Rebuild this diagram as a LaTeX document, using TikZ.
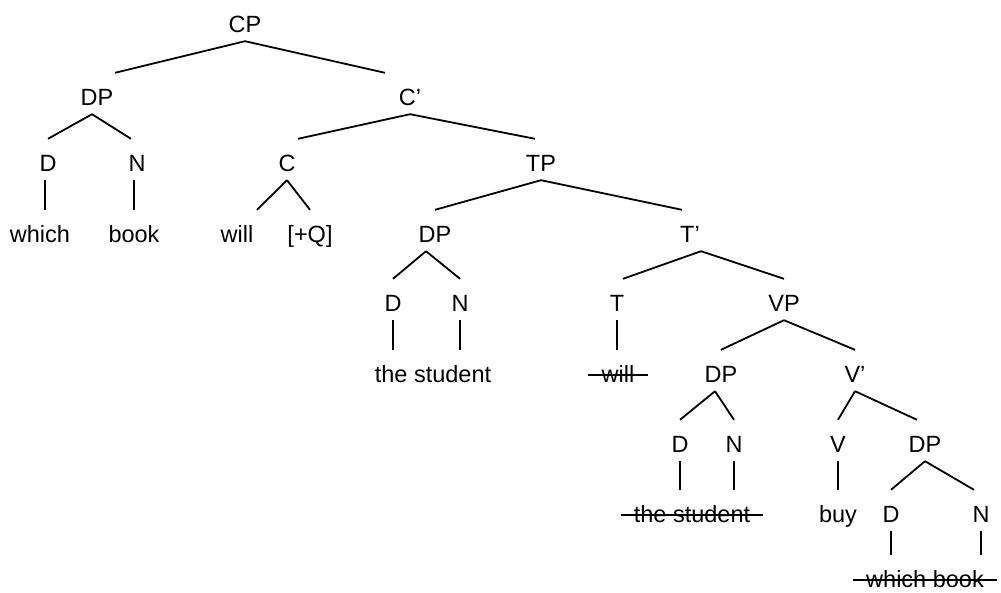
\documentclass[tikz,border=0pt]{standalone}
\usepackage{fontspec}
\setmainfont{Liberation Sans}
\usetikzlibrary{calc}

\begin{document}
\begin{tikzpicture}[
                x=1pt,y=-1pt,
                cat/.style={anchor=base,inner sep=0pt,text height=32pt,text depth=9pt,font=\fontsize{23.5}{28}\selectfont},
                branch/.style={line width=1.8pt},
                strike/.style={line width=1.3pt,shorten <=-13pt,shorten >=-13pt}
            ]
                \useasboundingbox (0,0) rectangle (1001,592);

                % CP level
                \node[cat] (cp) at (245,32) {CP};
                \node[cat] (dp1) at (97,105) {DP};
                \node[cat] (c1) at (410,105) {C’};

                % Wh-phrase and C
                \node[cat] (d1) at (48,171) {D};
                \node[cat] (n1) at (137,171) {N};
                \node[cat] (c) at (287,171) {C};
                \node[cat] (tp) at (541,171) {TP};
                \node[cat] (which1) at (40,242) {which};
                \node[cat] (book1) at (134,242) {book};
                \node[cat] (will1) at (237,242) {will};
                \node[cat] (q) at (310,242) {[+Q]};

                % TP level
                \node[cat] (dp2) at (435,242) {DP};
                \node[cat] (t1) at (690,242) {T’};
                \node[cat] (d2) at (393,311) {D};
                \node[cat] (n2) at (460,311) {N};
                \node[cat] (t) at (617,311) {T};
                \node[cat] (vp) at (784,311) {VP};
                \node[cat] (stud1) at (433,382) {the student};
                \node[cat] (will2) at (618,382) {will};

                % VP level
                \node[cat] (dp3) at (721,382) {DP};
                \node[cat] (v1) at (855,382) {V’};
                \node[cat] (d3) at (680,452) {D};
                \node[cat] (n3) at (734,452) {N};
                \node[cat] (v) at (838,452) {V};
                \node[cat] (dp4) at (925,452) {DP};
                \node[cat] (stud2) at (692,522) {the student};
                \node[cat] (buy) at (838,522) {buy};
                \node[cat] (d4) at (891,522) {D};
                \node[cat] (n4) at (981,522) {N};
                \node[cat] (wb) at (925,587) {which book};

                % Branches
                \draw[branch] (cp.south) -- ([xshift=18pt]dp1.north);
                \draw[branch] (cp.south) -- ([xshift=-25pt]c1.north);
                \draw[branch] ([xshift=-5pt]dp1.south) -- (d1.north);
                \draw[branch] ([xshift=-5pt]dp1.south) -- ([xshift=-6pt]n1.north);
                \draw[branch] (c1.south) -- ([xshift=11pt]c.north);
                \draw[branch] (c1.south) -- ([xshift=-6pt]tp.north);
                \draw[branch] (c.south) -- ([xshift=20pt]will1.north);
                \draw[branch] (c.south) -- (q.north);
                \draw[branch] (tp.south) -- (dp2.north);
                \draw[branch] (tp.south) -- ([xshift=-8pt]t1.north);
                \draw[branch] ([xshift=-9pt]dp2.south) -- (d2.north);
                \draw[branch] ([xshift=-9pt]dp2.south) -- (n2.north);
                \draw[branch] ([xshift=11pt]t1.south) -- ([xshift=6pt]t.north);
                \draw[branch] ([xshift=11pt]t1.south) -- (vp.north);
                \draw[branch] (vp.south) -- (dp3.north);
                \draw[branch] (vp.south) -- (v1.north);
                \draw[branch] ([xshift=-6pt]dp3.south) -- (d3.north);
                \draw[branch] ([xshift=-6pt]dp3.south) -- (n3.north);
                \draw[branch] (v1.south) -- (v.north);
                \draw[branch] (v1.south) -- ([xshift=-8pt]dp4.north);
                \draw[branch] (dp4.south) -- (d4.north);
                \draw[branch] (dp4.south) -- ([xshift=-7pt]n4.north);

                % Leaves
                \draw[branch] ([xshift=-3pt]d1.south) -- ([xshift=-3pt]d1.south |- which1.north);
                \draw[branch] ([xshift=-3pt]n1.south) -- ([xshift=-3pt]n1.south |- book1.north);
                \draw[branch] (d2.south) -- (d2.south |- stud1.north);
                \draw[branch] (n2.south) -- (n2.south |- stud1.north);
                \draw[branch] (t.south) -- (t.south |- will2.north);
                \draw[branch] (d3.south) -- (d3.south |- stud2.north);
                \draw[branch] (n3.south) -- (n3.south |- stud2.north);
                \draw[branch] (v.south) -- (v.south |- buy.north);
                \draw[branch] (d4.south) -- (d4.south |- wb.north);
                \draw[branch] (n4.south) -- (n4.south |- wb.north);

                % Deleted copies
                \draw[strike] ([yshift=7pt]will2.base west) -- ([yshift=7pt]will2.base east);
                \draw[strike] ([yshift=7pt]stud2.base west) -- ([yshift=7pt]stud2.base east);
                \draw[strike] ([yshift=7pt]wb.base west) -- ([yshift=7pt]wb.base east);
            \end{tikzpicture}
\end{document}
